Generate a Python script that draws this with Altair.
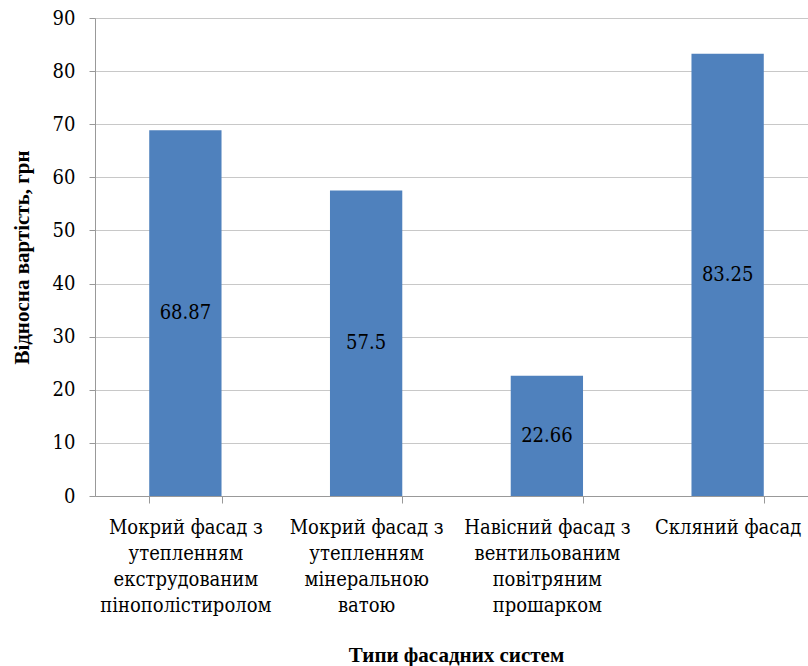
import altair as alt
import pandas as pd

categories = [
    "Мокрий фасад з\nутепленням\nекструдованим\nпінополістиролом",
    "Мокрий фасад з\nутепленням\nмінеральною\nватою",
    "Навісний фасад з\nвентильованим\nповітряним\nпрошарком",
    "Скляний фасад",
]
values = [68.87, 57.5, 22.66, 83.25]
value_labels = ["68.87", "57.5", "22.66", "83.25"]

df = pd.DataFrame({"cat": categories, "value": values, "lbl": value_labels})

TITLE_FONT = "Liberation Serif"
FONT = "'DejaVu Serif Condensed', 'DejaVu Serif'"
FS = 20

x_scale = alt.Scale(range=[0, 723], paddingInner=0.6, paddingOuter=0.3)

x_enc = alt.X(
    "cat:N",
    sort=categories,
    scale=x_scale,
    axis=alt.Axis(
        title="Типи фасадних систем",
        titleFont=TITLE_FONT,
        titleFontSize=21,
        titleFontWeight="bold",
        titleColor="black",
        titleX=361,
        titleY=159,
        titleAlign="center",
        titleBaseline="middle",
        labelExpr="isValid(datum.value) ? split(datum.value, '\\n') : ''",
        labelFont=FONT,
        labelFontSize=FS,
        labelColor="black",
        labelLineHeight=26,
        labelAngle=0,
        labelPadding=14,
        labelBaseline="top",
        labelLimit=400,
        tickBand="extent",
        tickSize=7,
        tickColor="#999999",
        domainColor="#999999",
        grid=False,
    ),
)

y_scale = alt.Scale(domain=[0, 90], nice=False)

bars = alt.Chart(df).mark_bar(color="#4F81BD").encode(
    x=x_enc,
    y=alt.Y(
        "value:Q",
        scale=y_scale,
        axis=alt.Axis(
            title="Відносна вартість, грн",
            titleFont=TITLE_FONT,
            titleFontSize=21,
            titleFontWeight="bold",
            titleColor="black",
            titleX=-73,
            titleY=239,
            titleAlign="center",
            titleBaseline="middle",
            values=list(range(0, 91, 10)),
            labelFont=FONT,
            labelFontSize=FS,
            labelColor="black",
            labelPadding=14,
            tickSize=6,
            tickColor="#999999",
            domainColor="#999999",
            gridColor="#c8c8c8",
        ),
    ),
)

text = alt.Chart(df).transform_calculate(mid="datum.value / 2").mark_text(
    font=FONT, fontSize=FS, color="black", baseline="middle", align="center"
).encode(
    x=alt.X("cat:N", sort=categories, scale=x_scale),
    y=alt.Y("mid:Q", scale=y_scale),
    text="lbl:N",
)

chart = (
    alt.layer(bars, text)
    .properties(
        width=713,
        height=478,
        autosize=alt.AutoSizeParams(type="none"),
        padding={"left": 95, "top": 18, "right": 0, "bottom": 172},
    )
    .configure_view(stroke=None)
    .configure(background="white")
)

chart.save("out.html", embed_options={"renderer": "svg", "actions": False})
